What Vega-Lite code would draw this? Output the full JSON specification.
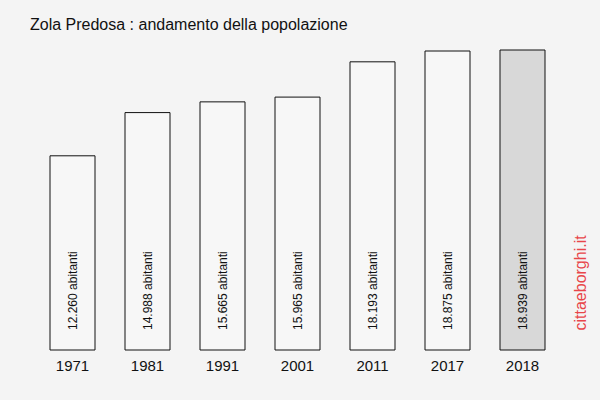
{
  "$schema": "https://vega.github.io/schema/vega-lite/v6.json",
  "width": 525,
  "height": 300,
  "autosize": {"type": "none"},
  "padding": {"left": 35, "top": 50, "right": 40, "bottom": 50},
  "background": "#f4f4f4",
  "title": {
    "text": "Zola Predosa : andamento della popolazione",
    "anchor": "start",
    "frame": "group",
    "dx": -5,
    "offset": 17,
    "font": "Liberation Sans",
    "fontSize": 16,
    "fontWeight": "normal",
    "color": "#111111"
  },
  "config": {"view": {"stroke": null}},
  "data": {
    "values": [
      {"anno": "1971", "abitanti": 12260, "label": "12.260 abitanti", "last": "no"},
      {"anno": "1981", "abitanti": 14988, "label": "14.988 abitanti", "last": "no"},
      {"anno": "1991", "abitanti": 15665, "label": "15.665 abitanti", "last": "no"},
      {"anno": "2001", "abitanti": 15965, "label": "15.965 abitanti", "last": "no"},
      {"anno": "2011", "abitanti": 18193, "label": "18.193 abitanti", "last": "no"},
      {"anno": "2017", "abitanti": 18875, "label": "18.875 abitanti", "last": "no"},
      {"anno": "2018", "abitanti": 18939, "label": "18.939 abitanti", "last": "yes"}
    ]
  },
  "encoding": {
    "x": {
      "field": "anno",
      "type": "nominal",
      "sort": null,
      "scale": {"paddingInner": 0.4, "paddingOuter": 0.2},
      "axis": {
        "title": null,
        "domain": false,
        "ticks": false,
        "labelAngle": 0,
        "labelFont": "Liberation Sans",
        "labelFontSize": 15,
        "labelColor": "#111111",
        "labelPadding": 8
      }
    }
  },
  "layer": [
    {
      "mark": {"type": "bar", "stroke": "#111111", "strokeWidth": 1},
      "encoding": {
        "y": {
          "field": "abitanti",
          "type": "quantitative",
          "scale": {"domain": [0, 18939], "nice": false, "zero": true},
          "axis": {
            "orient": "right",
            "title": "cittaeborghi.it",
            "titleColor": "#e8464a",
            "titleFont": "Liberation Sans",
            "titleFontSize": 16,
            "titleFontWeight": "normal",
            "titleAngle": 270,
            "titleAnchor": "start",
            "titlePadding": 28,
            "titleY": 280,
            "titleAlign": "left",
            "domain": false,
            "ticks": false,
            "labels": false,
            "grid": false
          }
        },
        "fill": {
          "field": "last",
          "type": "nominal",
          "scale": {"domain": ["no", "yes"], "range": ["#f7f7f7", "#d8d8d8"]},
          "legend": null
        }
      }
    },
    {
      "mark": {
        "type": "text",
        "angle": 270,
        "align": "left",
        "baseline": "middle",
        "dx": 20,
        "font": "Liberation Sans",
        "fontSize": 12,
        "color": "#111111"
      },
      "encoding": {
        "y": {"datum": 0, "type": "quantitative"},
        "text": {"field": "label"}
      }
    }
  ]
}
